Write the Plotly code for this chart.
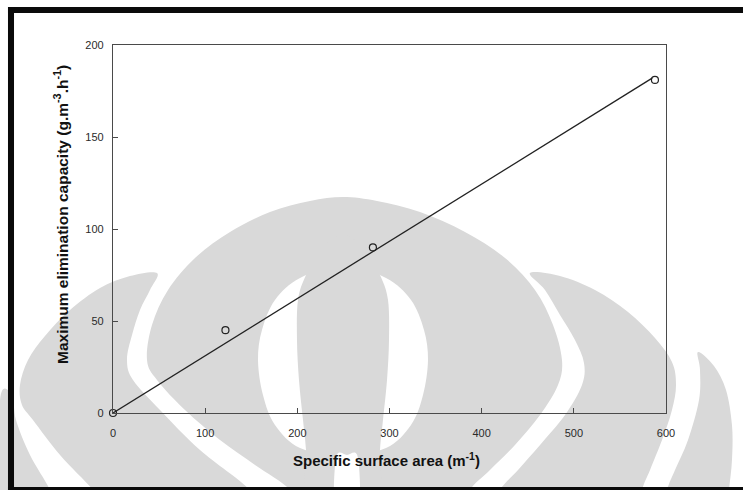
import plotly.graph_objects as go

# ---- data ----
surface_area = [0, 122, 282, 588]          # specific surface area (m^-1)
max_ec = [0, 45, 90, 181]                  # max elimination capacity (g.m^-3.h^-1)
fit_x = [0, 585]
fit_y = [0, 182]
x_ticks = [0, 100, 200, 300, 400, 500, 600]
y_ticks = [0, 50, 100, 150, 200]

# ---- geometry helpers (style only) ----
W, H = 743, 490
ML, MR, MT, MB = 113, 77, 45, 77
PW, PH = W - ML - MR, H - MT - MB


def to_paper(x, y):
    return ((x - ML) / PW, 1 - (y - MT) / PH)


def smooth_path(pts):
    n = len(pts)
    P = [to_paper(*p) for p in pts]
    d = f"M{P[0][0]:.4f},{P[0][1]:.4f}"
    for i in range(n):
        p0 = P[i - 1]
        p1 = P[i]
        p2 = P[(i + 1) % n]
        p3 = P[(i + 2) % n]
        c1 = (p1[0] + (p2[0] - p0[0]) / 6, p1[1] + (p2[1] - p0[1]) / 6)
        c2 = (p2[0] - (p3[0] - p1[0]) / 6, p2[1] - (p3[1] - p1[1]) / 6)
        d += f" C{c1[0]:.4f},{c1[1]:.4f} {c2[0]:.4f},{c2[1]:.4f} {p2[0]:.4f},{p2[1]:.4f}"
    return d + " Z"


def rect_path(x0, y0, x1, y1):
    a = to_paper(x0, y0)
    b = to_paper(x1, y1)
    return f"M{a[0]:.4f},{a[1]:.4f} L{b[0]:.4f},{a[1]:.4f} L{b[0]:.4f},{b[1]:.4f} L{a[0]:.4f},{b[1]:.4f} Z"


GRAY = "#d9d9d9"
WHITE = "#ffffff"

left_crescent = [(157, 273), (130, 276), (100, 288), (70, 310), (45, 336), (28, 360),
                 (20, 385), (22, 405), (33, 420), (60, 455), (93, 490), (110, 515),
                 (262, 515), (250, 490), (200, 450), (160, 410), (133, 380), (127, 360),
                 (132, 335), (140, 310), (150, 290)]
far_left = [(12, 395), (16, 420), (30, 455), (50, 490), (58, 515), (0, 515), (0, 400)]
onion = [(343, 197), (310, 201), (270, 212), (230, 232), (195, 258), (168, 290),
         (152, 325), (147, 360), (157, 380), (185, 410), (220, 440), (255, 465),
         (290, 490), (300, 515), (462, 515), (470, 490), (490, 470), (515, 445),
         (540, 415), (558, 385), (562, 360), (553, 325), (535, 290), (505, 258),
         (465, 232), (420, 212), (377, 201)]
lens = [(343, 265), (300, 278), (275, 300), (262, 330), (258, 360), (263, 395),
        (275, 425), (300, 448), (343, 456), (386, 448), (411, 425), (423, 395),
        (428, 360), (424, 330), (411, 300), (386, 278)]
core = [(343, 235), (320, 250), (306, 275), (298, 300), (297, 340), (299, 380),
        (303, 420), (306, 450), (310, 515), (376, 515), (380, 450), (383, 420),
        (387, 380), (389, 340), (388, 300), (380, 275), (366, 250)]
notch = [(336, 458), (347, 455), (358, 458), (358, 515), (336, 515)]
right_crescent = [(530, 273), (560, 276), (595, 290), (628, 312), (655, 338), (672, 362),
                  (676, 385), (672, 410), (662, 440), (650, 470), (642, 490), (638, 515),
                  (492, 515), (500, 490), (518, 470), (540, 445), (565, 415), (582, 385),
                  (584, 363), (575, 340), (560, 315), (545, 290)]
far_right = [(698, 352), (714, 366), (726, 390), (732, 425), (732, 460), (729, 490),
             (727, 515), (662, 515), (667, 490), (675, 470), (688, 440), (699, 400),
             (700, 370)]

shapes = []
for pts, col in [(left_crescent, GRAY), (far_left, GRAY), (onion, GRAY), (lens, WHITE),
                 (core, GRAY), (notch, WHITE), (right_crescent, GRAY), (far_right, GRAY)]:
    shapes.append(dict(type="path", xref="paper", yref="paper", path=smooth_path(pts),
                       fillcolor=col, line=dict(width=0), layer="below"))

# black scan frame
for (x0, y0, x1, y1) in [(8, 7, 745, 13), (8, 7, 14, 492), (8, 487, 745, 492)]:
    shapes.append(dict(type="path", xref="paper", yref="paper", path=rect_path(x0, y0, x1, y1),
                       fillcolor="#0a0a0a", line=dict(width=0), layer="above"))

fig = go.Figure()
fig.add_trace(go.Scatter(x=fit_x, y=fit_y, mode="lines",
                         line=dict(color="#222222", width=1.3), showlegend=False,
                         cliponaxis=False))
fig.add_trace(go.Scatter(x=surface_area, y=max_ec, mode="markers",
                         marker=dict(symbol="circle-open", size=7, color="#222222",
                                     line=dict(width=1.2)),
                         showlegend=False, cliponaxis=False))

FONT = "Liberation Sans, Arial, Helvetica, sans-serif"
axis_common = dict(showgrid=False, zeroline=False, showline=True, mirror=True,
                   linecolor="#4a4a4a", linewidth=1.3, ticks="inside", ticklen=5,
                   tickwidth=1.1, tickcolor="#4a4a4a",
                   tickfont=dict(family=FONT, size=11, color="#2a2a2a"))

fig.update_xaxes(range=[0, 600], tickvals=x_ticks, ticklabelstandoff=10, **axis_common)
fig.update_yaxes(range=[0, 200], tickvals=y_ticks, ticklabelstandoff=6, **axis_common)

xt = to_paper(386, 459)
yt = to_paper(61, 215)
fig.update_layout(
    width=W, height=H,
    margin=dict(l=ML, r=MR, t=MT, b=MB, autoexpand=False),
    paper_bgcolor="white", plot_bgcolor="rgba(0,0,0,0)",
    shapes=shapes,
    annotations=[
        dict(text="<b>Specific surface area (m<sup>-1</sup>)</b>", xref="paper", yref="paper",
             x=xt[0], y=xt[1], showarrow=False, xanchor="center", yanchor="middle",
             font=dict(family=FONT, size=15, color="#111111")),
        dict(text="<b>Maximum elimination capacity (g.m<sup>-3</sup>.h<sup>-1</sup>)</b>",
             xref="paper", yref="paper", x=yt[0], y=yt[1], showarrow=False,
             textangle=-90, xanchor="center", yanchor="middle",
             font=dict(family=FONT, size=15.5, color="#111111")),
    ],
)

fig.write_html("out.html", config={"displayModeBar": False},
               post_script="document.body.style.margin='0';")
